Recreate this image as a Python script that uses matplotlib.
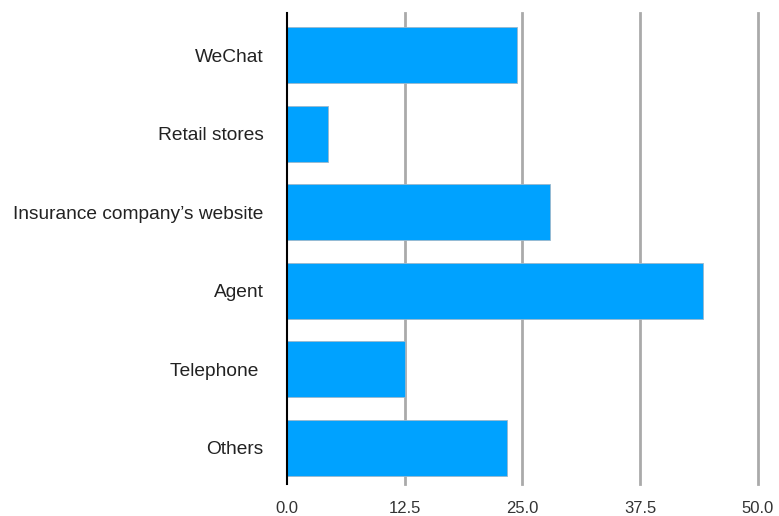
import matplotlib
matplotlib.use("Agg")
import matplotlib.pyplot as plt

categories = ["WeChat", "Retail stores", "Insurance company\u2019s website", "Agent", "Telephone ", "Others"]
values = [24.4, 4.4, 27.9, 44.2, 12.5, 23.4]
xticks = [0.0, 12.5, 25.0, 37.5, 50.0]

plt.rcParams['font.family'] = ['Liberation Sans', 'DejaVu Sans']

fig = plt.figure(figsize=(7.79, 5.16), dpi=100)
ax = fig.add_axes([287/779, 1-484/516, (757.7-287)/779, (484-13)/516])

y = list(range(len(categories)))
ax.barh(y, values, height=0.71, color="#00a2ff", edgecolor="#9ab8cc", linewidth=0.6, zorder=3)

ax.set_xlim(0, 50)
ax.set_ylim(5.46, -0.537)
ax.set_xticks(xticks)
ax.set_xticklabels([f"{v:.1f}" for v in xticks], fontsize=12, color="#333333")
ax.set_yticks(y)
ax.set_yticklabels(categories, fontsize=13.8, color="#222222")
ax.tick_params(length=0)
ax.tick_params(axis='x', pad=12)
ax.tick_params(axis='y', pad=17)

for t in xticks[1:]:
    ax.axvline(t, color="#aaaaaa", linewidth=2, zorder=1, clip_on=False)
for s in ax.spines.values():
    s.set_visible(False)
ax.axvline(0, color="black", linewidth=1.5, zorder=4, clip_on=False)

fig.savefig("out.png", dpi=100)
